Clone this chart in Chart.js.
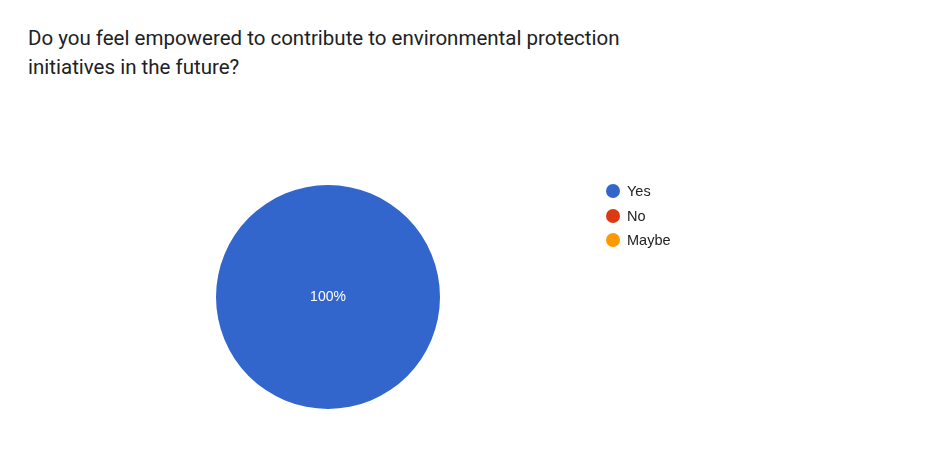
<!DOCTYPE html>
<html lang="en">
	<head>
		<meta charset="utf-8" />
		<title>Empowered to contribute</title>
		<script src="https://cdn.jsdelivr.net/npm/chart.js@4.4.0/dist/chart.umd.min.js"></script>
		<style>
			html, body { margin: 0; padding: 0; background: #fff; }
			#wrap { position: relative; width: 937px; height: 452px; overflow: hidden; }
			#title {
				position: absolute; left: 28px; top: 24px; width: 640px;
				font-family: Roboto, sans-serif; font-size: 20.5px; line-height: 29px; color: #202124;
			}
			#chartBox { position: absolute; left: 0; top: 0; width: 937px; height: 452px; }
			#legend { position: absolute; left: 606px; top: 179px; font-family: "Liberation Sans", Arial, sans-serif; font-size: 14.5px; color: #222; }
			.item { height: 24.4px; display: flex; align-items: center; }
			.dot { width: 14px; height: 14px; border-radius: 50%; margin-right: 7px; }
		</style>
	</head>
	<body>
		<div id="wrap">
			<div id="title">Do you feel empowered to contribute to environmental protection<br>initiatives in the future?</div>
			<div id="chartBox"><canvas id="myChart"></canvas></div>
			<div id="legend"></div>
		</div>
		<script type="text/javascript">

			const labels = ['Yes', 'No', 'Maybe'];
			const percents = [100, 0, 0];
			const colors = ['#3366cc', '#dc3912', '#ff9900'];

			// legend built from the same arrays
			const legend = document.getElementById('legend');
			labels.forEach((l, i) => {
				const row = document.createElement('div');
				row.className = 'item';
				row.innerHTML = '<span class="dot" style="background:' + colors[i] + '"></span>' + l;
				legend.appendChild(row);
			});

			// percentage labels inside slices
			const sliceLabels = {
				id: 'sliceLabels',
				afterDatasetsDraw(chart) {
					const ctx = chart.ctx;
					const meta = chart.getDatasetMeta(0);
					ctx.save();
					ctx.fillStyle = '#ffffff';
					ctx.font = '14px "Liberation Sans", Arial, sans-serif';
					ctx.textAlign = 'center';
					ctx.textBaseline = 'middle';
					meta.data.forEach((arc, i) => {
						const v = percents[i];
						if (!v) return;
						let pos = arc.tooltipPosition();
						if (v === 100) pos = { x: arc.x, y: arc.y };
						ctx.fillText(v + '%', pos.x, pos.y);
					});
					ctx.restore();
				}
			};

			const ctx = document.getElementById('myChart').getContext('2d');
			const myChart = new Chart(ctx, {
				type: 'pie',
				data: {
					labels: labels,
					datasets: [{
						data: percents,
						backgroundColor: colors,
						borderWidth: 0
					}]
				},
				options: {
					responsive: true,
					maintainAspectRatio: false,
					animation: false,
					layout: { padding: { left: 216, right: 497, top: 185, bottom: 43 } },
					plugins: {
						legend: { display: false },
						tooltip: { enabled: false }
					}
				},
				plugins: [sliceLabels]
			});
		</script>
	</body>
</html>
